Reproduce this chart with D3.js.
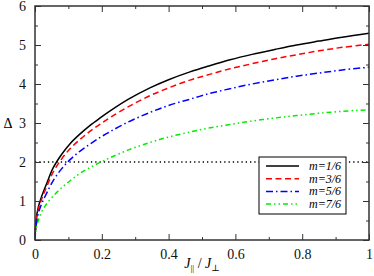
<!DOCTYPE html>
<html>
<head>
<meta charset="utf-8">
<script src="https://cdn.jsdelivr.net/npm/d3@7"></script>
<style>
  body { margin: 0; background: #fff; }
</style>
</head>
<body>
<div id="chart"></div>
<script>
// ratio J_par / J_perp, shared by all curves
const xValues = [0, 0.003, 0.01, 0.02, 0.035, 0.055, 0.08, 0.105, 0.135, 0.165, 0.195, 0.225,
  0.28, 0.344, 0.4, 0.464, 0.52, 0.584, 0.65, 0.72, 0.783, 0.85, 0.92, 1];

const gapM1 = [0, 0.5, 0.85, 1.12, 1.45, 1.86, 2.2, 2.47, 2.72, 2.94, 3.13, 3.31,
  3.61, 3.9, 4.11, 4.31, 4.46, 4.62, 4.76, 4.89, 5.0, 5.1, 5.2, 5.3];
const gapM3 = [0, 0.45, 0.79, 1.05, 1.37, 1.75, 2.08, 2.34, 2.58, 2.79, 2.97, 3.14,
  3.42, 3.7, 3.9, 4.1, 4.24, 4.39, 4.52, 4.65, 4.75, 4.85, 4.94, 5.02];
const gapM5 = [0, 0.35, 0.68, 0.93, 1.2, 1.53, 1.83, 2.06, 2.28, 2.46, 2.63, 2.78,
  3.03, 3.27, 3.45, 3.61, 3.75, 3.88, 4.0, 4.11, 4.2, 4.28, 4.36, 4.43];
const gapM7 = [0, 0.25, 0.5, 0.72, 0.93, 1.13, 1.34, 1.52, 1.71, 1.86, 1.99, 2.11,
  2.31, 2.5, 2.64, 2.77, 2.87, 2.96, 3.05, 3.13, 3.19, 3.25, 3.3, 3.34];

const seriesLabels = ['m=1/6', 'm=3/6', 'm=5/6', 'm=7/6'];
const xTicks = [0, 0.2, 0.4, 0.6, 0.8, 1];
const yTicks = [0, 1, 2, 3, 4, 5, 6];
const refLevel = 2;

const serif = '"Liberation Serif", "Times New Roman", "DejaVu Serif", serif';
const width = 374, height = 276;
const margin = { top: 6, right: 5, bottom: 36, left: 35 };

const svg = d3.select('#chart').append('svg')
    .attr('width', width)
    .attr('height', height);

const x = d3.scaleLinear().domain([0, 1]).range([margin.left, width - margin.right]);
const y = d3.scaleLinear().domain([0, 6]).range([height - margin.bottom, margin.top]);

const styles = [
    { color: '#000000', dash: null },
    { color: '#ff0000', dash: '6,3.5' },
    { color: '#0000ff', dash: '7,3,1.5,3' },
    { color: '#00ee00', dash: '5,3,1.5,3,1.5,3' }
];

const series = [gapM1, gapM3, gapM5, gapM7].map((vals, i) => ({
    label: seriesLabels[i],
    style: styles[i],
    points: xValues.map((xv, j) => [xv, vals[j]])
}));

// reference line at Delta = 2
svg.append('line')
    .attr('x1', x(0)).attr('x2', x(1))
    .attr('y1', y(refLevel)).attr('y2', y(refLevel))
    .attr('stroke', '#000')
    .attr('stroke-width', 1.3)
    .attr('stroke-dasharray', '1.3,3');

const line = d3.line()
    .x(d => x(d[0]))
    .y(d => y(d[1]))
    .curve(d3.curveCatmullRom.alpha(0.5));

svg.append('g').selectAll('path')
    .data(series)
    .join('path')
    .attr('d', d => line(d.points))
    .attr('fill', 'none')
    .attr('stroke', d => d.style.color)
    .attr('stroke-width', 1.5)
    .attr('stroke-dasharray', d => d.style.dash);

// axes, ticks inward and mirrored
const xMinor = d3.range(0.1, 1, 0.2);
const yMinor = d3.range(0.5, 6, 1);
const fmtX = d => (d === 0 || d === 1) ? d3.format('d')(d) : d3.format('.1f')(d);

svg.append('g')
    .attr('transform', `translate(0,${y(0)})`)
    .call(d3.axisBottom(x).tickValues(xTicks).tickSize(-6).tickPadding(9).tickFormat(fmtX));

svg.append('g')
    .attr('transform', `translate(0,${y(0)})`)
    .call(d3.axisBottom(x).tickValues(xMinor).tickSize(-3).tickFormat(''));

svg.append('g')
    .attr('transform', `translate(0,${y(6)})`)
    .call(d3.axisTop(x).tickValues(xTicks).tickSize(-6).tickFormat(''));

svg.append('g')
    .attr('transform', `translate(0,${y(6)})`)
    .call(d3.axisTop(x).tickValues(xMinor).tickSize(-3).tickFormat(''));

svg.append('g')
    .attr('transform', `translate(${x(0)},0)`)
    .call(d3.axisLeft(y).tickValues(yTicks).tickSize(-6).tickPadding(9).tickFormat(d3.format('d')));

svg.append('g')
    .attr('transform', `translate(${x(0)},0)`)
    .call(d3.axisLeft(y).tickValues(yMinor).tickSize(-3).tickFormat(''));

svg.append('g')
    .attr('transform', `translate(${x(1)},0)`)
    .call(d3.axisRight(y).tickValues(yTicks).tickSize(-6).tickFormat(''));

svg.append('g')
    .attr('transform', `translate(${x(1)},0)`)
    .call(d3.axisRight(y).tickValues(yMinor).tickSize(-3).tickFormat(''));

svg.selectAll('.domain').remove();
svg.selectAll('.tick line').attr('stroke', '#333').attr('stroke-width', 1);
svg.selectAll('.tick text')
    .attr('fill', '#111')
    .style('font-family', serif)
    .style('font-size', '14px');

// frame
svg.append('rect')
    .attr('x', x(0)).attr('y', y(6))
    .attr('width', x(1) - x(0))
    .attr('height', y(0) - y(6))
    .attr('fill', 'none')
    .attr('stroke', '#333')
    .attr('stroke-width', 1.5);

// axis titles
svg.append('text')
    .attr('x', 8).attr('y', y(3) + 5)
    .attr('text-anchor', 'middle')
    .style('font-family', serif)
    .style('font-size', '14px')
    .text('Δ');

const xt = svg.append('text')
    .attr('x', x(0.5)).attr('y', 268)
    .attr('text-anchor', 'middle')
    .style('font-family', serif)
    .style('font-size', '14px');
xt.append('tspan').attr('font-style', 'italic').text('J');
xt.append('tspan').style('font-size', '9px').attr('dy', 3).text('||');
xt.append('tspan').attr('dy', -3).text(' / ');
xt.append('tspan').attr('font-style', 'italic').text('J');
xt.append('tspan').style('font-size', '9px').attr('dy', 3).text('⊥');

// legend
const legend = svg.append('g')
    .attr('transform', `translate(259,157)`);

legend.append('rect')
    .attr('width', 87).attr('height', 57)
    .attr('fill', '#fff')
    .attr('stroke', '#000')
    .attr('stroke-width', 1);

const rows = legend.selectAll('g.row')
    .data(series)
    .join('g')
    .attr('class', 'row')
    .attr('transform', (d, i) => `translate(0,${9 + i * 12.7})`);

rows.append('line')
    .attr('x1', 7).attr('x2', 40)
    .attr('stroke', d => d.style.color)
    .attr('stroke-width', 1.5)
    .attr('stroke-dasharray', d => d.style.dash);

rows.append('text')
    .attr('x', 50).attr('y', 4)
    .style('font-family', serif)
    .style('font-size', '12px')
    .style('font-style', 'italic')
    .text(d => d.label);
</script>
</body>
</html>
